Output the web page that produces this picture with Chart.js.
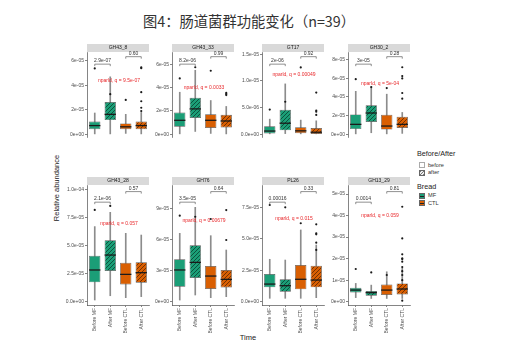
<!DOCTYPE html>
<html>
<head>
<meta charset="utf-8">
<script src="https://cdn.jsdelivr.net/npm/chart.js@4.4.0/dist/chart.umd.min.js"></script>
<style>
body { margin: 0; background: #fff; width: 509px; height: 349px; position: relative; overflow: hidden; font-family: "Liberation Sans", Arial, sans-serif; }
canvas { position: absolute; }
.txt { position: absolute; white-space: nowrap; color: #222; }
.key { position: absolute; width: 6px; height: 6px; box-sizing: border-box; border: 0.6px solid #666; }
.key i { position: absolute; left: 0; right: 0; top: 2.2px; height: 1px; background: #222; }
</style>
</head>
<body>
<div class="txt" style="left:0;width:498px;top:10px;text-align:center;font:14.3px 'Noto Sans CJK SC';color:#333">图4：肠道菌群功能变化（n=39）</div>
<div class="txt" style="left:56px;top:188px;font-size:7.5px;transform:translate(-50%,-50%) rotate(-90deg)">Relative abundance</div>
<div class="txt" style="left:248px;top:337px;font-size:7.5px;transform:translate(-50%,-50%)">Time</div>

<div class="txt" style="left:417px;top:149px;font-size:7.2px">Before/After</div>
<div class="key" style="left:419px;top:162px;background:#fff;border-color:#aaa"></div>
<div class="txt" style="left:428px;top:161.5px;font-size:5.6px;color:#333">before</div>
<div class="key" style="left:419px;top:169.5px;background:repeating-linear-gradient(135deg,#777 0 0.8px,#eee 0.8px 2.4px)"></div>
<div class="txt" style="left:428px;top:169px;font-size:5.6px;color:#333">after</div>
<div class="txt" style="left:417px;top:181.5px;font-size:7.2px">Bread</div>
<div class="key" style="left:419px;top:192.5px;background:#1b9e77"><i></i></div>
<div class="txt" style="left:428px;top:192px;font-size:5.6px;color:#333">MF</div>
<div class="key" style="left:419px;top:200px;background:#d95f02"><i></i></div>
<div class="txt" style="left:428px;top:199.5px;font-size:5.6px;color:#333">CTL</div>

<script>
// values in units of 1e-05
const panels = ['GH43_8', 'GH43_33', 'GT17', 'GH30_2', 'GH43_28', 'GH76', 'PL26', 'GH13_29'];
const groups = ['Before MF', 'After MF', 'Before CTL', 'After CTL'];

const whiskerLow = [
  [0.02, 0.02, 0.06, 0.02],
  [0.0, 0.23, 0.06, 0.02],
  [0.0, 0.01, 0.0, 0.0],
  [0.03, 0.15, 0.03, 0.08],
  [0.15, 0.53, 0.36, 0.45],
  [0.16, 0.65, 0.39, 0.49],
  [0.27, 0.27, 0.27, 0.32],
  [0.19, 0.15, 0.15, 0.15]
];
const boxQ1 = [
  [0.41, 1.15, 0.41, 0.41],
  [0.63, 1.39, 0.53, 0.57],
  [0.013, 0.071, 0.018, 0.004],
  [0.54, 1.30, 0.49, 0.66],
  [1.72, 2.73, 1.54, 1.69],
  [1.46, 2.30, 1.23, 1.39],
  [1.14, 0.80, 0.98, 1.14],
  [0.43, 0.28, 0.31, 0.34]
];
const boxMedian = [
  [0.70, 1.62, 0.60, 0.70],
  [1.19, 2.17, 1.19, 1.13],
  [0.058, 0.205, 0.062, 0.036],
  [1.05, 2.27, 0.87, 1.05],
  [2.82, 4.15, 2.43, 2.58],
  [3.08, 3.82, 2.49, 2.17],
  [1.40, 1.27, 1.78, 1.72],
  [0.54, 0.42, 0.54, 0.59]
];
const boxQ3 = [
  [1.03, 2.63, 0.88, 1.03],
  [1.86, 3.13, 1.70, 1.66],
  [0.147, 0.455, 0.129, 0.116],
  [2.12, 3.09, 2.07, 1.87],
  [4.09, 5.46, 3.47, 3.50],
  [4.11, 5.47, 3.46, 3.08],
  [2.20, 1.78, 2.92, 2.85],
  [0.65, 0.50, 0.80, 0.85]
];
const whiskerHigh = [
  [1.73, 4.69, 1.62, 1.77],
  [3.60, 5.49, 2.89, 2.38],
  [0.281, 0.942, 0.263, 0.25],
  [4.60, 5.06, 4.29, 2.33],
  [6.68, 7.95, 6.08, 5.93],
  [6.64, 9.16, 6.41, 5.02],
  [3.37, 3.31, 5.70, 4.50],
  [0.85, 0.77, 1.39, 1.55]
];
const outliers = [
  [[5.38, 3.27, 2.80], [5.47, 5.40], [3.43, 2.16, 1.89], [2.69]],
  [[4.79], [5.75], [5.45, 3.54], [3.44, 3.36]],
  [[0.46, 0.607], [1.25], [0.442], [0.78, 0.42, 0.36]],
  [[5.90, 5.05, 4.95], [6.24], [5.98], [7.18, 4.42, 3.81]],
  [[], [], [8.16], [8.52]],
  [[8.35], [], [8.25, 8.03], [8.90, 5.99]],
  [[7.68, 7.50, 6.23, 4.69], [5.43, 4.11], [], [6.15, 5.35]],
  [[1.52, 1.36, 1.24, 0.05], [2.94, 1.98, 1.42, 1.24, 1.00], [4.41, 1.86, 1.61], [2.20, 2.01]]
];

const pairP = [
  ['2.9e-07', '0.60'], ['8.2e-06', '0.99'], ['2e-06', '0.92'], ['3e-05', '0.28'],
  ['2.1e-06', '0.57'], ['3.5e-05', '0.64'], ['0.00016', '0.33'], ['0.0014', '0.81']
];
const qText = [
  'nparld, q = 9.5e-07', 'nparld, q = 0.0033', 'nparld, q = 0.00049', 'nparld, q = 5e-04',
  'nparld, q = 0.057', 'nparld, q = 0.00679', 'nparld, q = 0.015', 'nparld, q = 0.059'
];

const tickValues = [
  [0, 2, 4, 6], [0, 2, 4, 6], [0, 0.5, 1, 1.5], [0, 2, 4, 6, 8],
  [0, 2.5, 5, 7.5, 10], [0, 3, 6, 9], [0, 2.5, 5, 7.5], [0, 1, 2, 3, 4, 5]
];
const tickLabels = [
  ['0e+00', '2e-05', '4e-05', '6e-05'],
  ['0e+00', '2e-05', '4e-05', '6e-05'],
  ['0.0e+00', '5.0e-06', '1.0e-05', '1.5e-05'],
  ['0e+00', '2e-05', '4e-05', '6e-05', '8e-05'],
  ['0.0e+00', '2.5e-05', '5.0e-05', '7.5e-05', '1.0e-04'],
  ['0e+00', '3e-05', '6e-05', '9e-05'],
  ['0.0e+00', '2.5e-05', '5.0e-05', '7.5e-05'],
  ['0e+00', '1e-05', '2e-05', '3e-05', '4e-05', '5e-05']
];
const yMin = [-0.234, -0.246, -0.0536, -0.307, -0.294, -0.32, -0.262, -0.153];
const yMax = [6.72, 7.06, 1.54, 8.82, 10.38, 11.33, 9.27, 5.42];

// layout
const colLeft = [87, 172, 262, 348];
const rowTop = [52, 185];
const plotH = [119, 120];
const plotW = 62;
const stripH = 8;
const yAxisW = 30;
const xAxisH = 34;
const qFrac = [0.34, 0.42, 0.27, 0.37, 0.325, 0.30, 0.28, 0.256];

const GREEN = '#1b9e77', ORANGE = '#d95f02';

function hatch(bg, fg) {
  const c = document.createElement('canvas');
  c.width = 4; c.height = 4;
  const g = c.getContext('2d');
  g.fillStyle = bg; g.fillRect(0, 0, 4, 4);
  g.strokeStyle = fg; g.lineWidth = 0.8;
  g.beginPath();
  g.moveTo(0, 4); g.lineTo(4, 0);
  g.moveTo(-1, 1); g.lineTo(1, -1);
  g.moveTo(3, 5); g.lineTo(5, 3);
  g.stroke();
  return g.createPattern(c, 'repeat');
}
const fills = [GREEN, hatch(GREEN, '#08402f'), ORANGE, hatch(ORANGE, '#5a2600')];

Chart.defaults.font.family = '"Liberation Sans", Arial, sans-serif';
Chart.defaults.color = '#4d4d4d';

const boxExtras = {
  id: 'boxExtras',
  afterDatasetsDraw(chart) {
    const p = chart.options.plugins.boxExtras.panel;
    const ctx = chart.ctx, y = chart.scales.y;
    const meta = chart.getDatasetMeta(1);
    ctx.save();
    ctx.strokeStyle = '#1a1a1a';
    ctx.lineWidth = 1.3;
    meta.data.forEach((bar, i) => {
      const yy = y.getPixelForValue(boxMedian[p][i]);
      ctx.beginPath();
      ctx.moveTo(bar.x - bar.width / 2, yy);
      ctx.lineTo(bar.x + bar.width / 2, yy);
      ctx.stroke();
    });
    ctx.restore();
  },
  afterDraw(chart) {
    const p = chart.options.plugins.boxExtras.panel;
    const ctx = chart.ctx, a = chart.chartArea, x = chart.scales.x;
    ctx.save();
    // strip
    ctx.fillStyle = '#d9d9d9';
    ctx.fillRect(a.left, a.top - stripH, a.right - a.left, stripH);
    ctx.fillStyle = '#1a1a1a';
    ctx.font = '5px "Liberation Sans", Arial';
    ctx.textAlign = 'center';
    ctx.textBaseline = 'middle';
    ctx.fillText(panels[p], (a.left + a.right) / 2, a.top - stripH / 2);
    // brackets
    const h = a.bottom - a.top;
    [[0, 1, 0.143], [2, 3, 0.055]].forEach((b, k) => {
      const x1 = x.getPixelForValue(b[0]), x2 = x.getPixelForValue(b[1]);
      const yy = a.top + b[2] * h;
      ctx.strokeStyle = '#444';
      ctx.lineWidth = 0.6;
      ctx.beginPath();
      ctx.moveTo(x1, yy + 2); ctx.lineTo(x1, yy); ctx.lineTo(x2, yy); ctx.lineTo(x2, yy + 2);
      ctx.stroke();
      ctx.fillStyle = '#333';
      ctx.textBaseline = 'bottom';
      ctx.fillText(pairP[p][k], (x1 + x2) / 2, yy - 0.8);
    });
    // test label
    ctx.fillStyle = '#e8272a';
    ctx.textBaseline = 'middle';
    ctx.fillText(qText[p], (a.left + a.right) / 2 + 1, a.top + qFrac[p] * h);
    ctx.restore();
  }
};

panels.forEach((name, p) => {
  const r = Math.floor(p / 4), c = p % 4;
  const bottomRow = r === 1;
  const cv = document.createElement('canvas');
  const w = yAxisW + plotW + 4;
  const hgt = stripH + plotH[r] + (bottomRow ? xAxisH : 4);
  cv.width = w; cv.height = hgt;
  cv.style.left = (colLeft[c] - yAxisW) + 'px';
  cv.style.top = (rowTop[r] - stripH) + 'px';
  document.body.appendChild(cv);

  const pts = [];
  outliers[p].forEach((arr, i) => arr.forEach(v => pts.push({ x: i, y: v })));

  new Chart(cv, {
    type: 'bar',
    data: {
      labels: groups,
      datasets: [
        { type: 'scatter', data: pts, pointRadius: 1.1, backgroundColor: '#1a1a1a', borderWidth: 0, order: 0 },
        { data: groups.map((g, i) => [boxQ1[p][i], boxQ3[p][i]]), backgroundColor: fills,
          borderColor: '#555', borderWidth: 0.7, borderSkipped: false, grouped: false,
          barPercentage: 0.73, categoryPercentage: 1, order: 1 },
        { data: groups.map((g, i) => [whiskerLow[p][i], whiskerHigh[p][i]]), backgroundColor: '#8c8c8c',
          barThickness: 1, grouped: false, order: 2 }
      ]
    },
    options: {
      responsive: false,
      animation: false,
      devicePixelRatio: 1,
      layout: { padding: { top: stripH, right: 4, bottom: bottomRow ? 0 : 4, left: 0 } },
      plugins: { legend: { display: false }, tooltip: { enabled: false }, boxExtras: { panel: p } },
      scales: {
        x: {
          display: bottomRow,
          offset: true,
          grid: { drawOnChartArea: false, offset: false, tickLength: 2, color: '#333', lineWidth: 0.6 },
          border: { display: true, color: '#333', width: 0.6 },
          ticks: { autoSkip: false, minRotation: 90, maxRotation: 90, padding: 1, font: { size: 5 }, color: '#4d4d4d' },
          afterFit: s => { s.height = xAxisH; }
        },
        y: {
          min: yMin[p], max: yMax[p],
          grid: { drawOnChartArea: false, tickLength: 2, color: '#333', lineWidth: 0.6 },
          border: { display: true, color: '#333', width: 0.6 },
          afterBuildTicks: s => { s.ticks = tickValues[p].map(v => ({ value: v })); },
          ticks: { padding: 1, font: { size: 5 }, color: '#4d4d4d', callback: (v, i) => tickLabels[p][i] },
          afterFit: s => { s.width = yAxisW; }
        }
      }
    },
    plugins: [boxExtras]
  });
});
</script>
</body>
</html>
